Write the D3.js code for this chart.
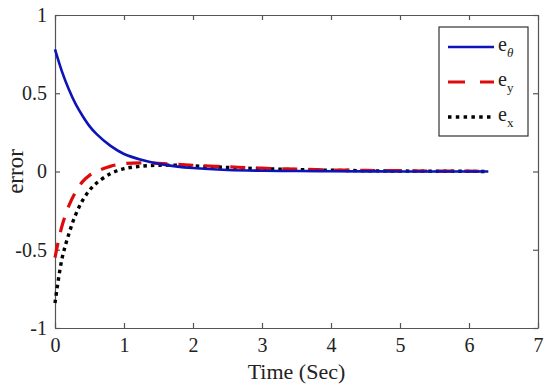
<!DOCTYPE html>
<html><head><meta charset="utf-8">
<script src="https://cdn.jsdelivr.net/npm/d3@7"></script>
<style>
body{margin:0;background:#fff;}
svg text{font-family:"Liberation Serif","Times New Roman",serif !important;fill:#222;}
</style></head>
<body><svg id="c" width="550" height="389"></svg>
<script>
const time   = [0, 0.1, 0.2, 0.3, 0.4, 0.5, 0.6, 0.8, 1.0, 1.25, 1.5, 1.75, 2, 2.5, 3, 3.5, 4, 4.5, 5, 5.5, 6, 6.28];
const eTheta = [0.78, 0.64, 0.525, 0.43, 0.355, 0.29, 0.24, 0.165, 0.112, 0.075, 0.05, 0.033, 0.022, 0.01, 0.005, 0.003, 0.002, 0.001, 0, 0, 0, 0];
const eY     = [-0.55, -0.35, -0.22, -0.13, -0.065, -0.025, 0.0, 0.033, 0.05, 0.055, 0.052, 0.046, 0.04, 0.03, 0.021, 0.015, 0.01, 0.007, 0.005, 0.003, 0.002, 0.001];
const eX     = [-0.84, -0.56, -0.40, -0.275, -0.185, -0.12, -0.075, -0.015, 0.018, 0.034, 0.04, 0.04, 0.036, 0.026, 0.018, 0.012, 0.008, 0.005, 0.003, 0.002, 0.001, 0];
const xTicks = [0, 1, 2, 3, 4, 5, 6, 7];
const yTicks = [-1, -0.5, 0, 0.5, 1];
const seriesNames = ["θ", "y", "x"];

const svg = d3.select("#c");
const L = 55, R = 538, T = 15, B = 328;
const x = d3.scaleLinear().domain([0, 7]).range([L, R]);
const y = d3.scaleLinear().domain([-1, 1]).range([B, T]);
const axisCol = "#555";
const serif = "Liberation Serif";

function styleAxis(g, labels) {
  g.attr("font-family", serif).attr("font-size", 20);
  g.selectAll(".domain").attr("stroke", axisCol).attr("stroke-width", 1.2);
  g.selectAll(".tick line").attr("stroke", axisCol).attr("stroke-width", 1.2);
  g.selectAll("text").attr("font-family", serif).attr("font-size", 20).attr("fill", "#222");
  if (!labels) g.selectAll("text").remove();
}
const fmt = d => String(d);
svg.append("g").attr("transform", `translate(0,${B})`)
  .call(d3.axisBottom(x).tickValues(xTicks).tickFormat(fmt).tickSizeInner(-5).tickSizeOuter(0).tickPadding(10))
  .call(g => styleAxis(g, true));
svg.append("g").attr("transform", `translate(0,${T})`)
  .call(d3.axisTop(x).tickValues(xTicks).tickSizeInner(-5).tickSizeOuter(0))
  .call(g => styleAxis(g, false));
svg.append("g").attr("transform", `translate(${L},0)`)
  .call(d3.axisLeft(y).tickValues(yTicks).tickFormat(fmt).tickSizeInner(-5).tickSizeOuter(0).tickPadding(8))
  .call(g => styleAxis(g, true));
svg.append("g").attr("transform", `translate(${R},0)`)
  .call(d3.axisRight(y).tickValues(yTicks).tickSizeInner(-5).tickSizeOuter(0))
  .call(g => styleAxis(g, false));

const line = vals => d3.line().x((d, i) => x(time[i])).y(d => y(d)).curve(d3.curveCatmullRom.alpha(0.5))(vals);
const series = [
  {vals: eTheta, color: "#0c14b8", w: 2.6, dash: null},
  {vals: eY, color: "#dd0b0b", w: 3.2, dash: "15,11"},
  {vals: eX, color: "#000", w: 3.4, dash: "3.5,4"}
];
series.slice().reverse().forEach(s => {
  svg.append("path").attr("d", line(s.vals)).attr("fill", "none")
    .attr("stroke", s.color).attr("stroke-width", s.w)
    .attr("stroke-dasharray", s.dash);
});

// axis labels
svg.append("text").attr("x", (L + R) / 2).attr("y", 379).attr("text-anchor", "middle")
  .attr("font-family", serif).attr("font-size", 22).text("Time (Sec)");
svg.append("text").attr("transform", `translate(23,${(T + B) / 2}) rotate(-90)`).attr("text-anchor", "middle")
  .attr("font-family", serif).attr("font-size", 23).text("error");

// legend
const lg = svg.append("g");
lg.append("rect").attr("x", 439).attr("y", 27).attr("width", 89).attr("height", 109)
  .attr("fill", "#fff").attr("stroke", "#333").attr("stroke-width", 1.2);
const legY = [47, 82, 117];
series.forEach((s, i) => {
  lg.append("line").attr("x1", 448).attr("x2", 494).attr("y1", legY[i]).attr("y2", legY[i])
    .attr("stroke", s.color).attr("stroke-width", s.w)
    .attr("stroke-dasharray", i === 1 ? "17,15" : (i === 2 ? "3.5,4.3" : null));
  const t = lg.append("text").attr("x", 498).attr("y", legY[i] + 4)
    .attr("font-family", serif).attr("font-size", 20);
  t.append("tspan").text("e");
  const sub = t.append("tspan").attr("dy", 6).attr("font-size", 13).text(seriesNames[i]);
  if (i === 0) sub.attr("font-style", "italic");
});
</script></body></html>
